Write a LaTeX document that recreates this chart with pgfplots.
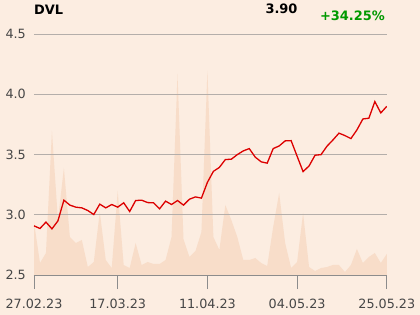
\documentclass[border=0pt]{standalone}
\usepackage{pgfplots}
\usepackage{pgfplotstable}
\pgfplotsset{compat=1.18}
\usepackage{fontspec}
\setmainfont{DejaVu Sans}
\definecolor{bgc}{RGB}{252,237,225}
\definecolor{volc}{RGB}{248,221,201}
\definecolor{pricec}{RGB}{220,0,0}
\definecolor{gridc}{RGB}{180,174,170}
\definecolor{axc}{RGB}{140,140,140}
\definecolor{lblc}{RGB}{70,70,70}
\definecolor{upc}{RGB}{0,153,0}

\pgfplotstableread{
i v
0 53
1 12
2 22
3 144
4 55
5 107
6 38
7 32
8 35
9 8
10 13
11 63
12 15
13 7
14 84
15 10
16 7
17 32
18 10
19 13
20 11
21 11
22 15
23 38
24 201
25 36
26 18
27 24
28 43
29 204
30 38
31 25
32 70
33 55
34 38
35 15
36 15
37 17
38 12
39 9
40 48
41 82
42 32
43 7
44 13
45 62
46 8
47 4
48 7
49 8
50 10
51 10
52 3
53 10
54 26
55 12
56 18
57 22
58 12
59 21
}\voltable

\pgfplotstableread{
i p
0 2.908
1 2.886
2 2.939
3 2.883
4 2.949
5 3.121
6 3.080
7 3.063
8 3.057
9 3.035
10 3.002
11 3.088
12 3.057
13 3.085
14 3.063
15 3.099
16 3.027
17 3.118
18 3.121
19 3.101
20 3.099
21 3.049
22 3.113
23 3.085
24 3.118
25 3.080
26 3.129
27 3.148
28 3.138
29 3.269
30 3.360
31 3.393
32 3.458
33 3.461
34 3.499
35 3.530
36 3.549
37 3.478
38 3.439
39 3.428
40 3.549
41 3.571
42 3.613
43 3.615
44 3.486
45 3.358
46 3.405
47 3.494
48 3.499
49 3.569
50 3.621
51 3.677
52 3.657
53 3.632
54 3.704
55 3.795
56 3.801
57 3.939
58 3.845
59 3.900
}\pricetable

\begin{document}
\begin{tikzpicture}
\fill[bgc] (-34bp,-40bp) rectangle (386bp,275bp);
\begin{axis}[at={(0,0)}, anchor=south west, scale only axis,
  width=352.8bp, height=241bp, xmin=0, xmax=59, ymin=0, ymax=241,
  hide axis]
\addplot[fill=volc, draw=none] table[x=i,y=v]{\voltable} \closedcycle;
\end{axis}
% strip below the axis: the x tick marks
\begin{axis}[at={(0,-14bp)}, anchor=south west, scale only axis,
  width=352.8bp, height=14bp, xmin=0, xmax=59, ymin=0, ymax=1,
  hide axis, clip=false]
\addplot[ycomb, axc, line width=0.9bp, mark=none] coordinates {(0,1) (14,1) (29,1) (44,1) (59,1)};
\end{axis}
\begin{axis}[at={(0,0)}, anchor=south west, scale only axis,
  width=352.8bp, height=241bp, xmin=0, xmax=59, ymin=2.5, ymax=4.5,
  axis x line*=bottom, axis y line*=left,
  x axis line style={-, axc, line width=0.9bp},
  y axis line style={draw=none},
  ymajorgrids, grid style={gridc, line width=0.9bp},
  ytick={2.5,3,3.5,4,4.5},
  xtick={0,14,29,44,59},
  xticklabels={27.02.23,17.03.23,11.04.23,04.05.23,25.05.23},
  major tick length=0pt,
  ticklabel style={font=\fontsize{12.8}{15}\selectfont, text=lblc},
  yticklabel style={anchor=east, inner sep=0pt, xshift=-8bp},
  xticklabel style={anchor=north, inner sep=0pt, yshift=-24bp},
  /pgf/number format/.cd, fixed, fixed zerofill, precision=1, assume math mode=true]
\addplot[pricec, line width=1.3bp, mark=none] table[x=i,y=p]{\pricetable};
\end{axis}
\node[anchor=base west, inner sep=0pt, font=\bfseries\fontsize{13}{15}\selectfont] at (0bp,260bp) {DVL};
\node[anchor=base east, inner sep=0pt, font=\bfseries\fontsize{13}{15}\selectfont] at (263.7bp,261bp) {3.90};
\node[anchor=base east, inner sep=0pt, text=upc, font=\bfseries\fontsize{13}{15}\selectfont] at (351bp,254bp) {+34.25\%};
\end{tikzpicture}
\end{document}
